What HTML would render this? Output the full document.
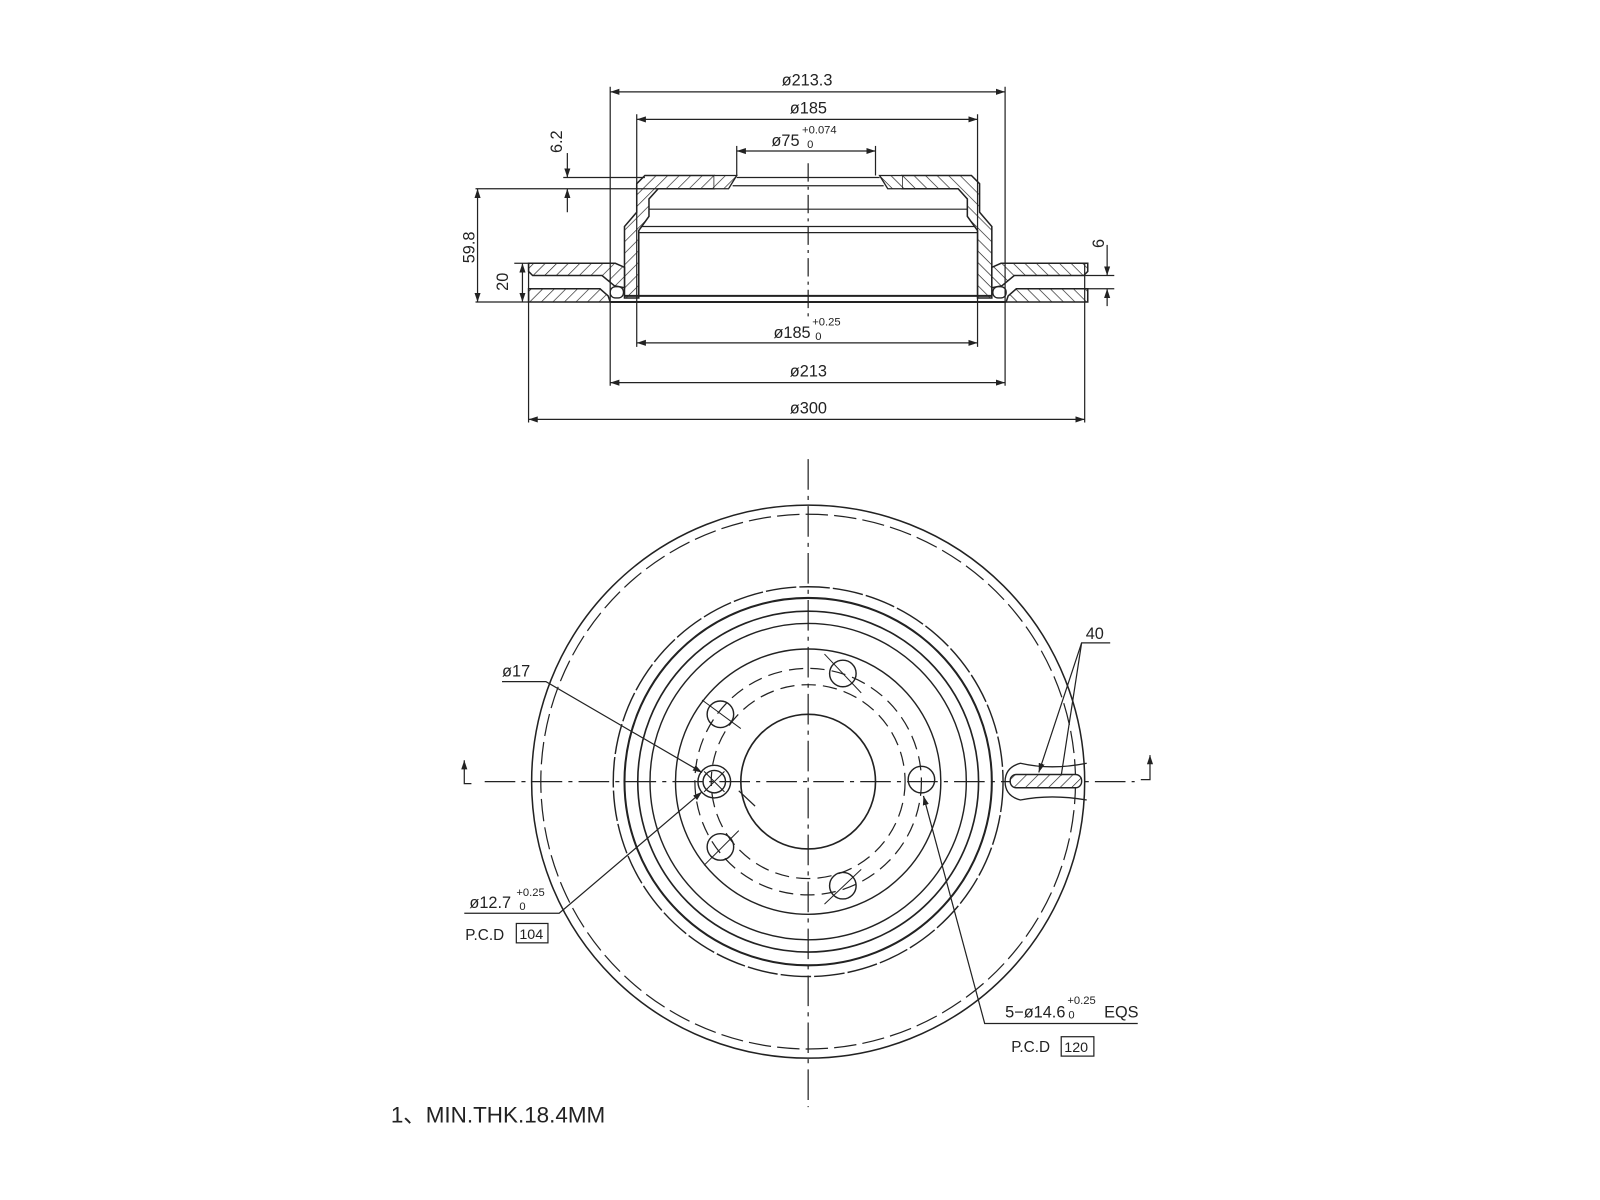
<!DOCTYPE html>
<html><head><meta charset="utf-8"><style>
html,body{margin:0;padding:0;background:#fff;}
svg{display:block;}
text{font-family:"Liberation Sans",sans-serif;fill:#222;}
</style></head><body>
<svg width="1600" height="1200" viewBox="0 0 1600 1200" xmlns="http://www.w3.org/2000/svg">
<defs>
<pattern id="h" patternUnits="userSpaceOnUse" width="8" height="8" patternTransform="rotate(45)">
<rect width="8" height="8" fill="#fff"/><line x1="0" y1="0" x2="0" y2="8" stroke="#222" stroke-width="1.3"/>
</pattern>
<marker id="a" markerWidth="10" markerHeight="8" refX="9" refY="4" orient="auto" markerUnits="userSpaceOnUse">
<path d="M0,1 L9,4 L0,7 Z" fill="#222"/></marker>
<marker id="as" markerWidth="10" markerHeight="8" refX="1" refY="4" orient="auto" markerUnits="userSpaceOnUse">
<path d="M10,1 L1,4 L10,7 Z" fill="#222"/></marker>
<g id="half">
<path d="M632,172 L700,172 L700,185 L645,185 L636,195 L636,212 L626,226 L626,292 L612,292 L612,222 L624,208 L624,180 Z" fill="url(#h)" stroke="#222" stroke-width="1.5"/>
<path d="M518,258 L603,258 L612,262 L612,282 L602,280 L590,270 L522,270 L518,266 Z" fill="url(#h)" stroke="#222" stroke-width="1.5"/>
<path d="M518,283 L588,283 L596,290 L598,296 L518,296 Z" fill="url(#h)" stroke="#222" stroke-width="1.5"/>
<rect x="598" y="281" width="13" height="11" rx="5" fill="#fff" stroke="#222" stroke-width="1.3"/>
<path d="M700,172 L722,172 L714,185 L700,185" fill="url(#h)" stroke="#222" stroke-width="1.3"/>
</g>
</defs>
<g transform="scale(1.0204)">
<g stroke="#222" stroke-width="1.2" fill="none">
<use href="#half"/>
<use href="#half" transform="translate(1584,0) scale(-1,1)"/>
<line x1="722" y1="174" x2="862" y2="174"/>
<line x1="718" y1="182" x2="866" y2="182"/>
<line x1="636" y1="205" x2="948" y2="205"/>
<line x1="628" y1="222" x2="956" y2="222"/>
<line x1="626" y1="228" x2="958" y2="228"/>
<line x1="612" y1="290" x2="972" y2="290" stroke-width="2"/>
<line x1="598" y1="296" x2="986" y2="296" stroke-width="2"/>
<line x1="792" y1="160" x2="792" y2="310" stroke-dasharray="18,5,3,5"/>
<line x1="598" y1="85" x2="598" y2="378"/>
<line x1="985" y1="85" x2="985" y2="378"/>
<line x1="624" y1="112" x2="624" y2="340"/>
<line x1="958" y1="112" x2="958" y2="340"/>
<line x1="722" y1="143" x2="722" y2="172"/>
<line x1="858" y1="143" x2="858" y2="172"/>
<line x1="518" y1="258" x2="518" y2="414"/>
<line x1="1063" y1="258" x2="1063" y2="414"/>
<line x1="552" y1="174" x2="632" y2="174"/>
<line x1="466" y1="185" x2="645" y2="185"/>
<line x1="466" y1="296" x2="518" y2="296"/>
<line x1="504" y1="258" x2="518" y2="258"/>
<line x1="1063" y1="270" x2="1092" y2="270"/>
<line x1="1063" y1="283" x2="1092" y2="283"/>
<line x1="598" y1="90" x2="985" y2="90" marker-start="url(#as)" marker-end="url(#a)"/>
<line x1="624" y1="117" x2="958" y2="117" marker-start="url(#as)" marker-end="url(#a)"/>
<line x1="722" y1="148" x2="858" y2="148" marker-start="url(#as)" marker-end="url(#a)"/>
<line x1="624" y1="336" x2="958" y2="336" marker-start="url(#as)" marker-end="url(#a)"/>
<line x1="598" y1="375" x2="985" y2="375" marker-start="url(#as)" marker-end="url(#a)"/>
<line x1="518" y1="411" x2="1063" y2="411" marker-start="url(#as)" marker-end="url(#a)"/>
<line x1="468" y1="185" x2="468" y2="296" marker-start="url(#as)" marker-end="url(#a)"/>
<line x1="512" y1="258" x2="512" y2="296" marker-start="url(#as)" marker-end="url(#a)"/>
<line x1="556" y1="150" x2="556" y2="174" marker-end="url(#a)"/>
<line x1="556" y1="208" x2="556" y2="185" marker-end="url(#a)"/>
<line x1="1085" y1="240" x2="1085" y2="270" marker-end="url(#a)"/>
<line x1="1085" y1="300" x2="1085" y2="283" marker-end="url(#a)"/>

<circle cx="792" cy="766" r="271" stroke-width="1.5"/>
<circle cx="792" cy="766" r="262" stroke-dasharray="22,6"/>
<circle cx="792" cy="766" r="191" stroke-dasharray="30,3" stroke-width="1.4"/>
<circle cx="792" cy="766" r="180" stroke-width="2"/>
<circle cx="792" cy="766" r="167" stroke-width="1.6"/>
<circle cx="792" cy="766" r="155" stroke-width="1.4"/>
<circle cx="792" cy="766" r="130" stroke-width="1.4"/>
<circle cx="792" cy="766" r="111" stroke-dasharray="14,7"/>
<circle cx="792" cy="766" r="95" stroke-dasharray="14,7"/>
<circle cx="792" cy="766" r="66" stroke-width="1.6"/>
<line x1="475" y1="766" x2="1112" y2="766" stroke-dasharray="30,6,4,6"/>
<line x1="792" y1="450" x2="792" y2="1085" stroke-dasharray="30,6,4,6"/>
<g stroke-width="1.4">
<circle cx="826" cy="660" r="13"/><circle cx="706" cy="700" r="13"/><circle cx="706" cy="830" r="13"/><circle cx="826" cy="868" r="13"/><circle cx="903" cy="764" r="13"/>
<circle cx="700" cy="766" r="16"/><circle cx="700" cy="766" r="11"/>
</g>
<g stroke-width="1">
<line x1="808" y1="641" x2="844" y2="679"/><line x1="688" y1="686" x2="726" y2="714"/><line x1="690" y1="848" x2="724" y2="814"/><line x1="808" y1="886" x2="844" y2="852"/>
<line x1="690" y1="756" x2="710" y2="776"/><line x1="690" y1="776" x2="710" y2="756"/>
</g>
<path d="M1065,748 Q1030,755 1000,748 Q985,752 985,766 Q985,780 1000,784 Q1030,778 1065,784" stroke-width="1.3"/>
<rect x="990" y="759" width="70" height="13" rx="6" fill="url(#h)" stroke-width="1.4"/>
<polyline points="492,668 535,668 688,757" marker-end="url(#a)"/>
<line x1="724" y1="775" x2="740" y2="790"/>
<polyline points="455,895 548,895 688,776" marker-end="url(#a)"/>
<polyline points="1115,1003 965,1003 905,780" marker-end="url(#a)"/>
<polyline points="1088,630 1060,630 1018,757" marker-end="url(#a)"/>
<line x1="1060" y1="630" x2="1040" y2="760"/>
<rect x="506" y="905" width="31" height="19"/>
<rect x="1040" y="1016" width="32" height="19"/>
<polyline points="455,745 455,768 462,768" marker-start="url(#as)"/>
<polyline points="1127,740 1127,764 1118,764" marker-start="url(#as)"/>
</g>
<g font-size="16">
<text x="766" y="84">ø213.3</text>
<text x="774" y="111">ø185</text>
<text x="756" y="143">ø75</text>
<text x="786" y="131" font-size="11">+0.074</text>
<text x="791" y="145" font-size="11">0</text>
<text x="758" y="331">ø185</text>
<text x="796" y="319" font-size="11">+0.25</text>
<text x="799" y="333" font-size="11">0</text>
<text x="774" y="369">ø213</text>
<text x="774" y="405">ø300</text>
<text transform="translate(551,150) rotate(-90)">6.2</text>
<text transform="translate(465,258) rotate(-90)">59.8</text>
<text transform="translate(498,285) rotate(-90)">20</text>
<text transform="translate(1082,243) rotate(-90)">6</text>
<text x="492" y="663">ø17</text>
<text x="460" y="890">ø12.7</text>
<text x="506" y="878" font-size="11">+0.25</text>
<text x="509" y="892" font-size="11">0</text>
<text x="456" y="921" font-size="15">P.C.D</text>
<text x="509" y="920" font-size="14">104</text>
<text x="985" y="997">5−ø14.6</text>
<text x="1046" y="984" font-size="11">+0.25</text>
<text x="1047" y="998" font-size="11">0</text>
<text x="1082" y="997">EQS</text>
<text x="991" y="1031" font-size="15">P.C.D</text>
<text x="1043" y="1031" font-size="14">120</text>
<text x="1064" y="626">40</text>
<text x="383" y="1100" font-size="22">1、MIN.THK.18.4MM</text>
</g>
</g>
</svg>
</body></html>
